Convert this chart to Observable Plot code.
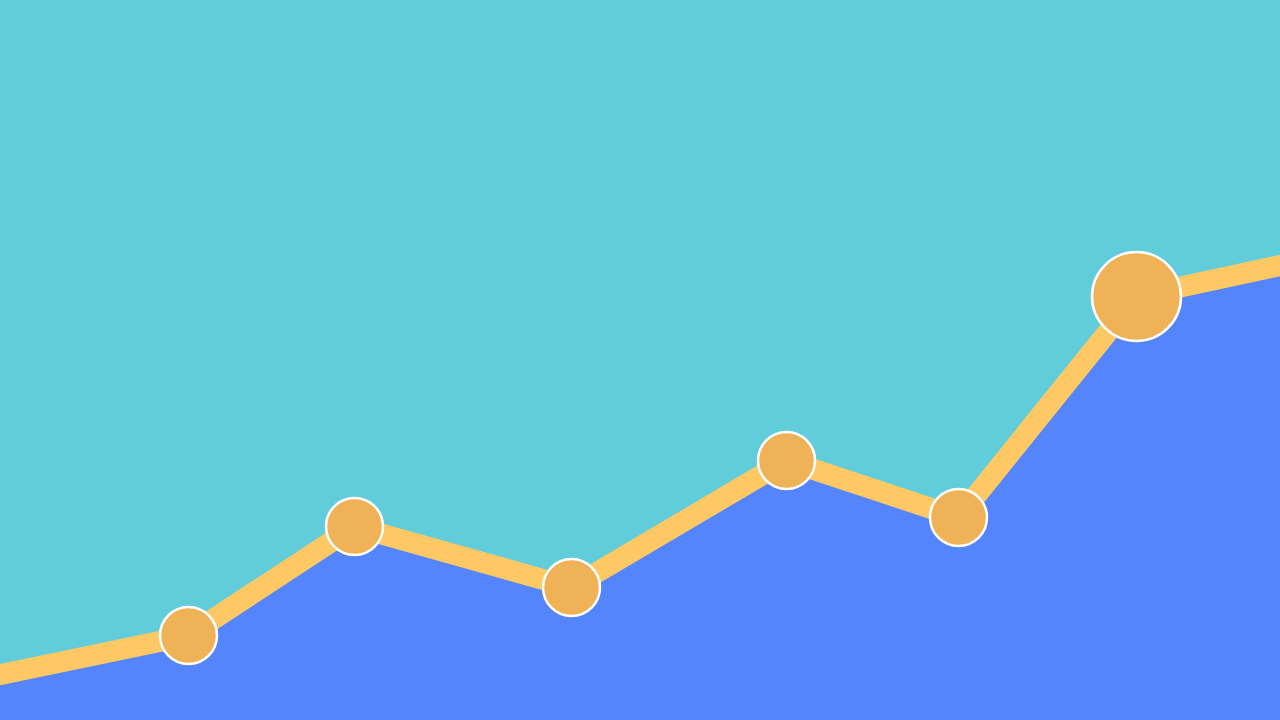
<!DOCTYPE html>
<html>
<head>
<meta charset="utf-8">
<script src="https://cdn.jsdelivr.net/npm/d3@7"></script>
<script src="https://cdn.jsdelivr.net/npm/@observablehq/plot@0.6"></script>
<style>
  html, body { margin: 0; padding: 0; background: #61CCDA; overflow: hidden; }
  svg { display: block; }
</style>
</head>
<body>
<div id="chart"></div>
<script>
// Series positions (x) and values (height above bottom)
const xs = [0, 188, 354, 571, 786, 958, 1136, 1280];
const values = [46, 85, 194, 133, 260, 203, 424, 455];
// Marker sizes for the interior points (0 = no marker)
const sizes = [0, 28.5, 28.5, 28.5, 28.5, 28.5, 44.5, 0];

const data = xs.map((x, i) => ({x, value: values[i], size: sizes[i]}));
const markers = data.filter(d => d.size > 0);

const chart = Plot.plot({
  width: 1280,
  height: 720,
  margin: 0,
  x: {domain: [0, 1280], axis: null},
  y: {domain: [0, 720], axis: null},
  r: {type: "identity"},
  style: {background: "#61CCDA", overflow: "hidden"},
  marks: [
    Plot.areaY(data, {x: "x", y: "value", fill: "#5485FD"}),
    Plot.line(data, {x: "x", y: "value", stroke: "#FEC864", strokeWidth: 21, strokeLinejoin: "round"}),
    Plot.dot(markers, {x: "x", y: "value", r: "size", fill: "#F0B256", stroke: "#FFFFFF", strokeWidth: 2.5})
  ]
});
document.getElementById("chart").appendChild(chart);
</script>
</body>
</html>
